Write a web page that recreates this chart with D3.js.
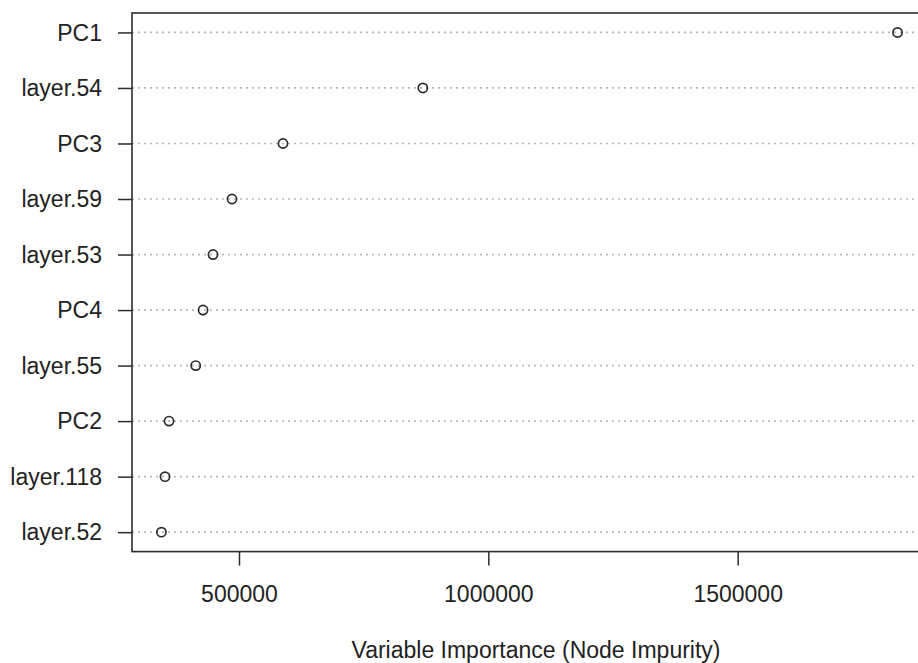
<!DOCTYPE html>
<html>
<head>
<meta charset="utf-8">
<script src="https://cdn.jsdelivr.net/npm/d3@7"></script>
<style>
  html, body { margin: 0; padding: 0; background: #fff; }
  svg { display: block; }
  text { font-family: "Liberation Sans", Arial, Helvetica, sans-serif; fill: #222; }
</style>
</head>
<body>
<svg id="chart" width="918" height="663"></svg>
<script>
// Variable importance (mean decrease in node impurity), listed top to bottom
const variables = ["PC1", "layer.54", "PC3", "layer.59", "layer.53", "PC4", "layer.55", "PC2", "layer.118", "layer.52"];
const importance = [1820600, 868700, 588200, 486000, 447900, 427900, 413200, 359700, 351700, 344500];
const xTicks = [500000, 1000000, 1500000];
const xTitle = "Variable Importance (Node Impurity)";

const svg = d3.select("#chart");
const box = { left: 132, right: 927, top: 13, bottom: 551.6 };
const fontSize = "23px";

// 4% padding on each side of the data range
const [lo, hi] = d3.extent(importance);
const pad = (hi - lo) * 0.04;
const x = d3.scaleLinear().domain([lo - pad, hi + pad]).range([box.left, box.right]);
const y = d3.scalePoint().domain(variables).range([box.top, box.bottom]).padding(0.35);

const data = variables.map((v, i) => ({ name: v, value: importance[i] }));

// Dotted guide lines across the plot region
svg.append("g")
  .selectAll("line")
  .data(data)
  .join("line")
  .attr("x1", box.left).attr("x2", box.right)
  .attr("y1", d => y(d.name)).attr("y2", d => y(d.name))
  .attr("stroke", "#b8b8b8")
  .attr("stroke-width", 1.7)
  .attr("stroke-dasharray", "2,4");

// Points
svg.append("g")
  .selectAll("circle")
  .data(data)
  .join("circle")
  .attr("cx", d => x(d.value))
  .attr("cy", d => y(d.name))
  .attr("r", 4.6)
  .attr("fill", "none")
  .attr("stroke", "#2b2b2b")
  .attr("stroke-width", 1.7);

// Frame
svg.append("rect")
  .attr("x", box.left).attr("y", box.top)
  .attr("width", box.right - box.left).attr("height", box.bottom - box.top)
  .attr("fill", "none")
  .attr("stroke", "#2b2b2b")
  .attr("stroke-width", 1.6);

// Bottom axis
const xAxis = svg.append("g")
  .attr("transform", `translate(0,${box.bottom})`)
  .call(d3.axisBottom(x).tickValues(xTicks).tickFormat(d3.format("d")).tickSize(14).tickPadding(0));
xAxis.select(".domain").remove();
xAxis.selectAll(".tick line").attr("stroke", "#2b2b2b").attr("stroke-width", 1.5);
xAxis.selectAll(".tick text")
  .attr("y", 50).attr("dy", null)
  .style("font-size", fontSize)
  .attr("fill", "#222");

// Left axis
const yAxis = svg.append("g")
  .attr("transform", `translate(${box.left},0)`)
  .call(d3.axisLeft(y).tickSize(14).tickPadding(16));
yAxis.select(".domain").remove();
yAxis.selectAll(".tick line").attr("stroke", "#2b2b2b").attr("stroke-width", 1.5);
yAxis.selectAll(".tick text")
  .attr("dy", "0.34em")
  .style("font-size", fontSize)
  .attr("fill", "#222");

// Axis title
svg.append("text")
  .attr("x", 536)
  .attr("y", 657.5)
  .attr("text-anchor", "middle")
  .style("font-size", fontSize)
  .text(xTitle);
</script>
</body>
</html>
